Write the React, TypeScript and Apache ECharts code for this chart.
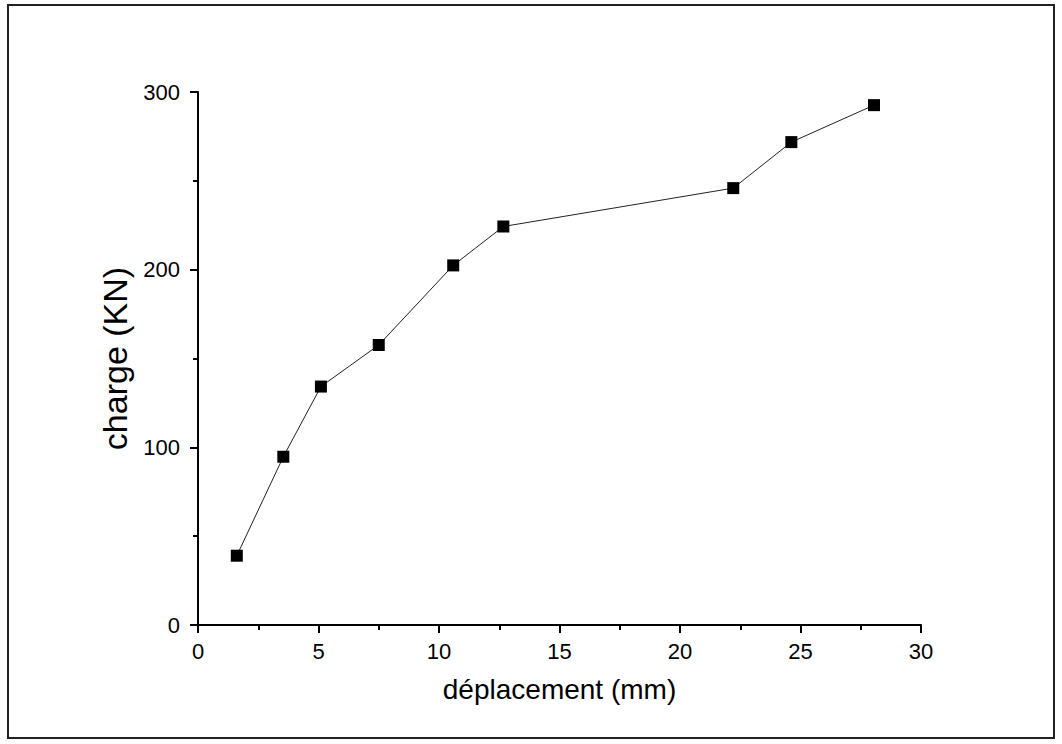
import React, { useEffect, useRef } from "react";
import * as echarts from "echarts";

const displacement = [1.61, 3.54, 5.1, 7.5, 10.59, 12.67, 22.21, 24.62, 28.05];
const charge = [39.0, 94.7, 134.2, 157.6, 202.4, 224.3, 245.9, 271.8, 292.6];
const xTitle = "déplacement (mm)";
const yTitle = "charge (KN)";

export default function App() {
  const ref = useRef<HTMLDivElement>(null);
  useEffect(() => {
    document.body.style.margin = "0";
    const chart = echarts.init(ref.current!, null, { renderer: "svg" });
    const font = "Liberation Sans, Arial, sans-serif";
    chart.setOption({
      animation: false,
      backgroundColor: "#ffffff",
      graphic: [
        {
          type: "rect",
          shape: { x: 8, y: 5, width: 1046, height: 733 },
          style: { fill: "none", stroke: "#222", lineWidth: 2 },
          silent: true,
        },
      ],
      grid: { left: 198, top: 92, right: 141, bottom: 119 },
      xAxis: {
        type: "value",
        min: 0,
        max: 30,
        interval: 5,
        name: xTitle,
        nameLocation: "middle",
        nameGap: 50,
        nameTextStyle: { fontSize: 28, color: "#000", fontFamily: font },
        axisLine: { show: true, onZero: false, lineStyle: { color: "#000", width: 2 } },
        axisTick: { show: true, inside: false, length: 8, lineStyle: { color: "#000", width: 2 } },
        minorTick: { show: true, splitNumber: 2, length: 5, lineStyle: { color: "#000", width: 2 } },
        axisLabel: { fontSize: 22, color: "#000", margin: 15, fontFamily: font },
        splitLine: { show: false },
      },
      yAxis: {
        type: "value",
        min: 0,
        max: 300,
        interval: 100,
        name: yTitle,
        nameLocation: "middle",
        nameGap: 66,
        nameTextStyle: { fontSize: 34, color: "#000", fontFamily: font },
        axisLine: { show: true, onZero: false, lineStyle: { color: "#000", width: 2 } },
        axisTick: { show: true, inside: false, length: 8, lineStyle: { color: "#000", width: 2 } },
        minorTick: { show: true, splitNumber: 2, length: 5, lineStyle: { color: "#000", width: 2 } },
        axisLabel: { fontSize: 22, color: "#000", margin: 18, fontFamily: font },
        splitLine: { show: false },
      },
      series: [
        {
          type: "line",
          data: displacement.map((x, i) => [x, charge[i]]),
          symbol: "rect",
          symbolSize: 12,
          showAllSymbol: true,
          lineStyle: { color: "#222", width: 1 },
          itemStyle: { color: "#000" },
        },
      ],
    });
    return () => chart.dispose();
  }, []);
  return <div ref={ref} style={{ width: 1062, height: 744 }} />;
}
